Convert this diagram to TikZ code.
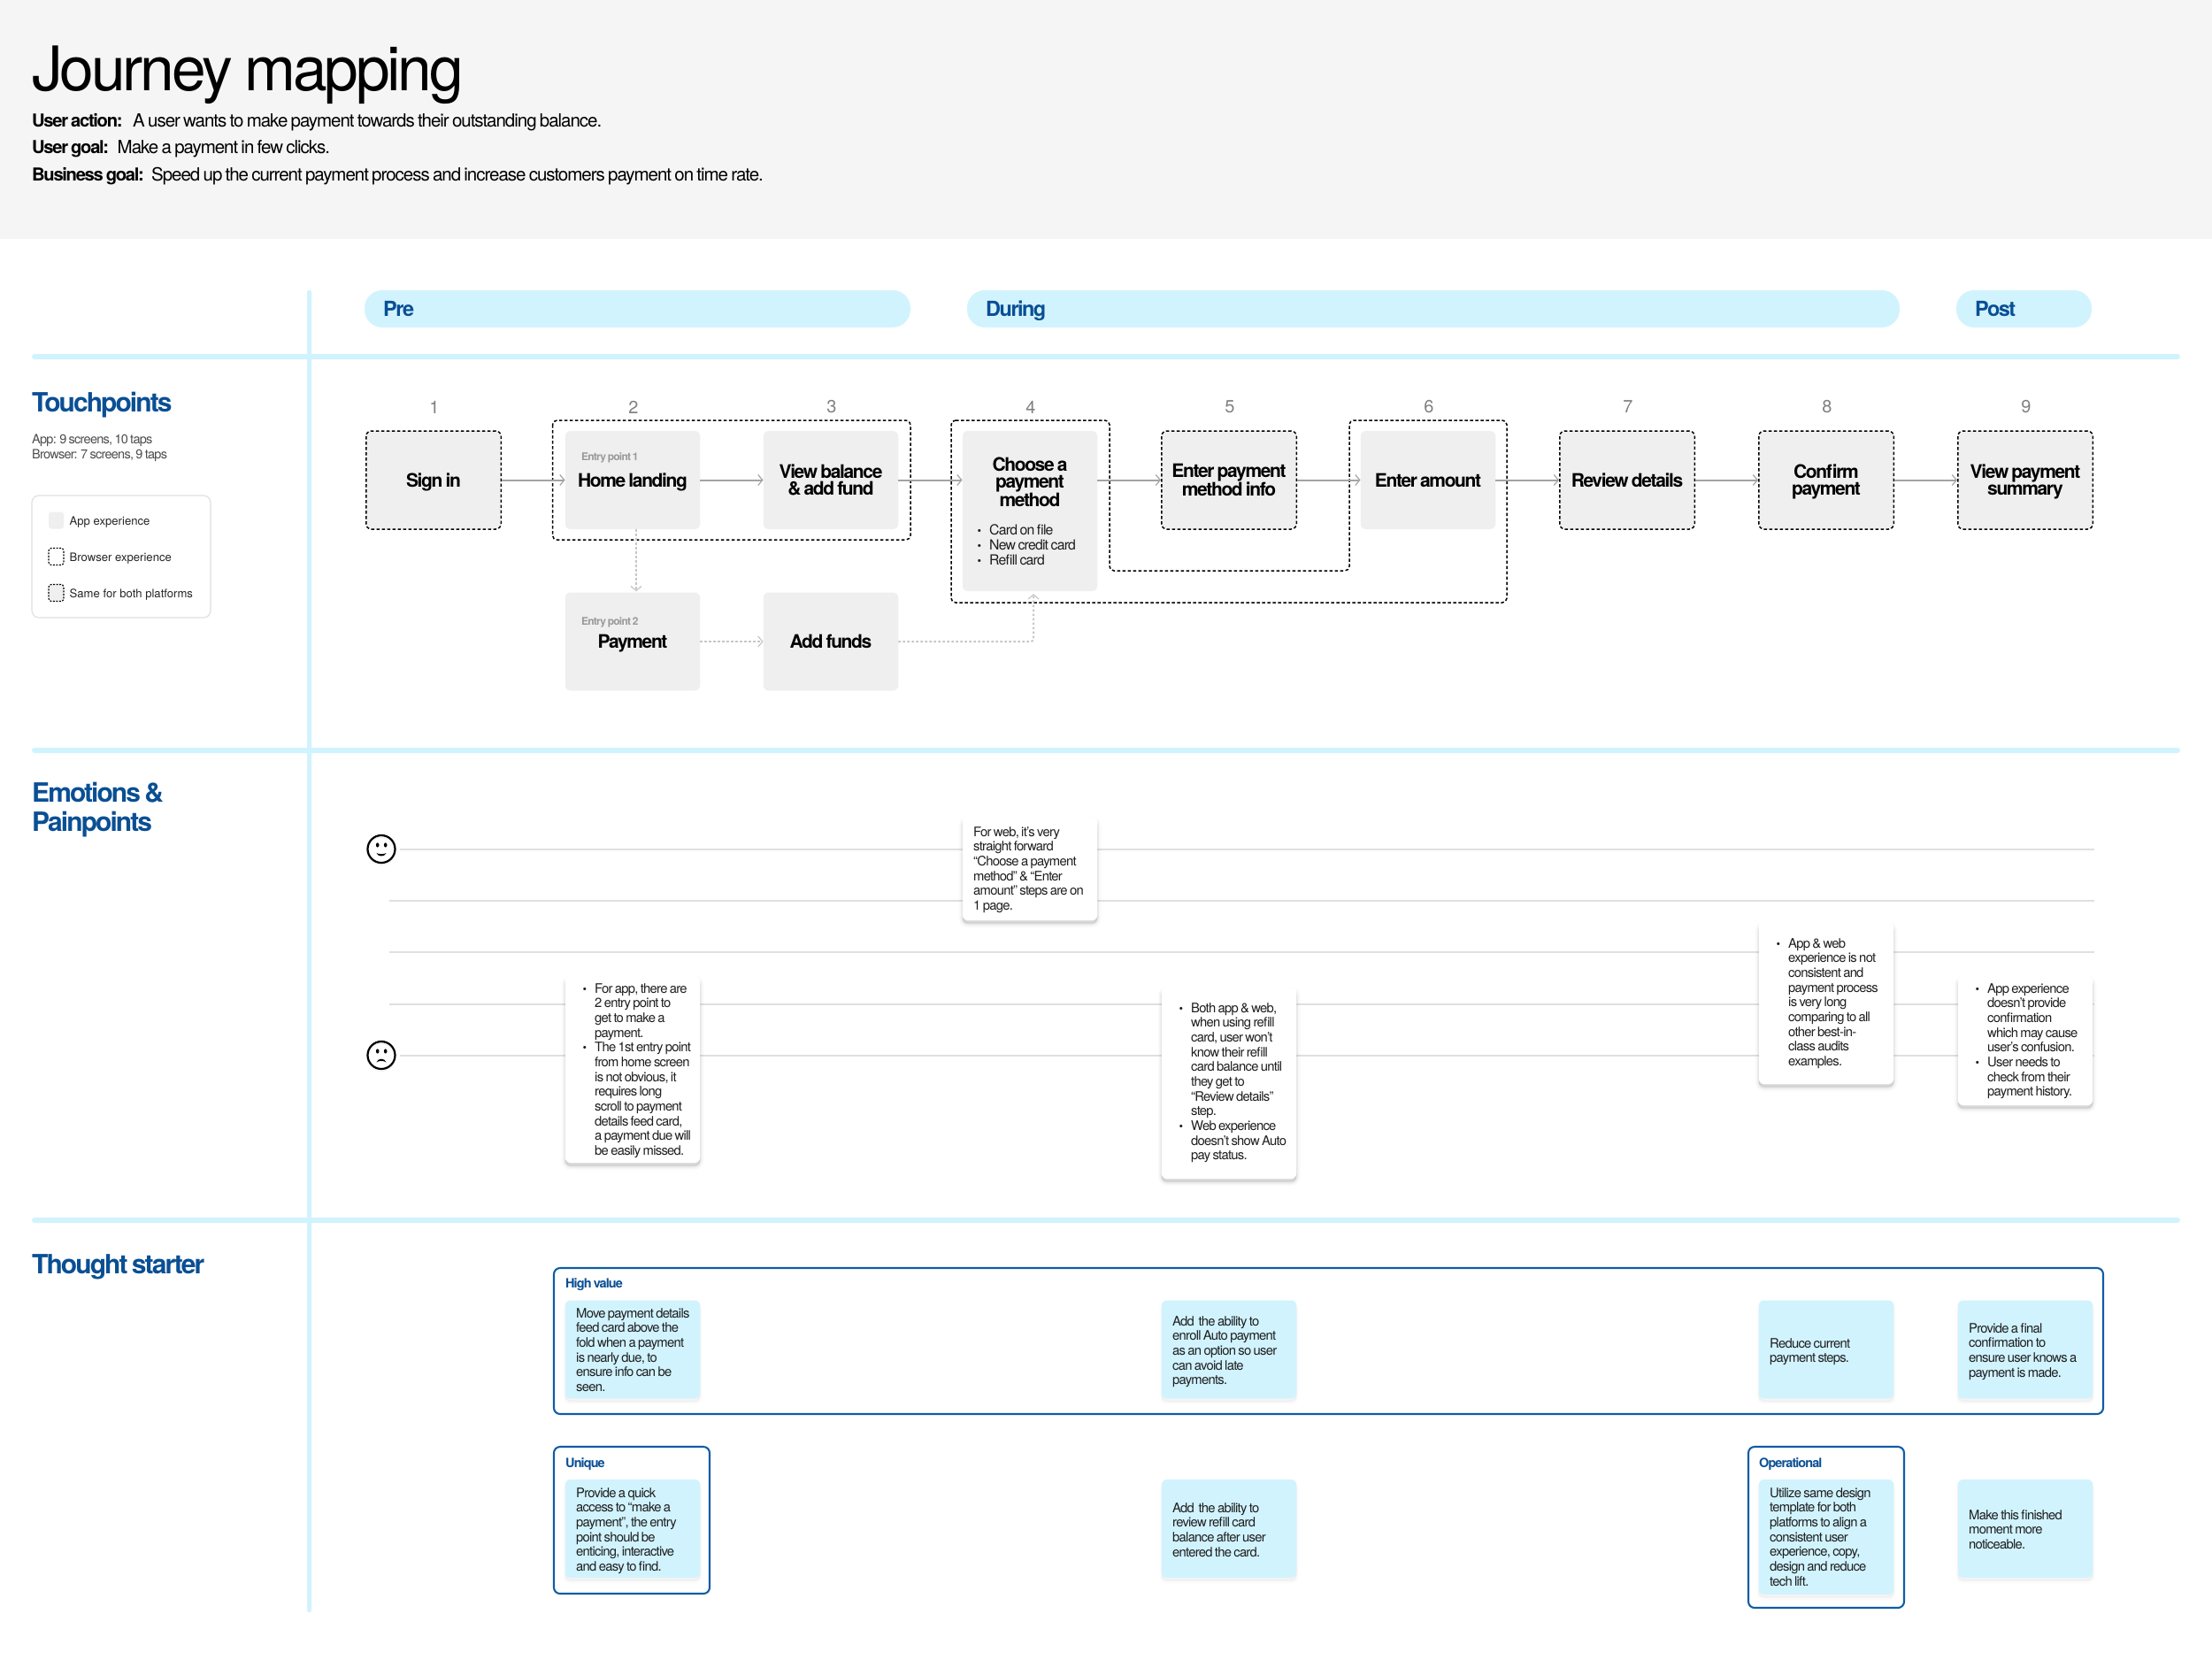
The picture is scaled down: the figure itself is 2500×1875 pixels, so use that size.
\documentclass[tikz,border=0pt]{standalone}
\usepackage{fontspec}
\usetikzlibrary{arrows.meta}
\setmainfont{TeX Gyre Heros}[LetterSpace=-5,WordSpace=0.7,BoldFeatures={LetterSpace=-6.5}]
\newfontfamily\titlefont{TeX Gyre Heros}[LetterSpace=-4.5,WordSpace=0.8]
\newfontfamily\legfont{TeX Gyre Heros}[LetterSpace=0]
\definecolor{hdr}{HTML}{F5F5F5}
\definecolor{sky}{HTML}{D1F3FE}
\definecolor{navy}{HTML}{0A4F94}
\definecolor{boxblue}{HTML}{0F5CA6}
\definecolor{stepg}{HTML}{EFEFEF}
\definecolor{rule}{HTML}{E0E0E0}
\definecolor{txt}{HTML}{1E1E1E}
\definecolor{arr}{HTML}{A3A3A3}
\definecolor{arrlight}{HTML}{C6C6C6}
\newcommand{\fs}[2]{\fontsize{#1}{#2}\selectfont}
\newcommand{\bul}{\llap{{\fs{13}{13}•}\hspace{9pt}}}
\newcommand{\ta}{\rule{0pt}{20pt}}
\newcommand{\tb}{\rule[-5pt]{0pt}{5pt}}
\tikzset{
  softshadow/.style={
    preaction={draw=black,fill=black,line width=9pt,opacity=.012,transform canvas={yshift=-4pt}},
    preaction={draw=black,fill=black,line width=6pt,opacity=.022,transform canvas={yshift=-4pt}},
    preaction={draw=black,fill=black,line width=3pt,opacity=.04,transform canvas={yshift=-4pt}},
    preaction={draw=black,fill=black,line width=.5pt,opacity=.05,transform canvas={yshift=-3pt}}},
  stepbox/.style={fill=stepg,rounded corners=6pt,minimum width=152.5pt,minimum height=111pt,inner sep=0pt,align=center,font=\fs{21}{19}\bfseries,text=black},
  dotted box/.style={draw=black,line width=1.5pt,dash pattern=on 3.5pt off 2.5pt},
  groupline/.style={draw=black,line width=1.5pt,dash pattern=on 3.5pt off 2.5pt,rounded corners=5pt},
  num/.style={font=\fs{20}{20},text=black!50,inner sep=0pt},
  section/.style={anchor=base west,inner sep=0pt,font=\fs{30}{33}\bfseries,text=navy,align=left},
  pilltext/.style={anchor=base west,inner sep=0pt,font=\fs{23.5}{23.5}\bfseries,text=navy},
  flow/.style={draw=arr,line width=2pt,-{Straight Barb[length=5pt,width=12pt,line width=1.2pt]}},
  flowdot/.style={draw=arrlight,line width=2pt,rounded corners=3pt,dash pattern=on 2.5pt off 2.5pt,-{Straight Barb[length=5pt,width=12pt,line width=1.2pt]}},
  card/.style={fill=white,rounded corners=6pt,minimum width=152.5pt,inner sep=0pt,softshadow},
  idea/.style={fill=sky,rounded corners=6pt,minimum width=152.5pt,inner sep=0pt,
    preaction={draw=black,fill=black,line width=6pt,opacity=.008,transform canvas={yshift=-4pt}},
    preaction={draw=black,fill=black,line width=3pt,opacity=.012,transform canvas={yshift=-4pt}},
    preaction={draw=black,fill=black,line width=.5pt,opacity=.02,transform canvas={yshift=-3pt}}},
  cardtext/.style={anchor=north west,inner sep=0pt,align=left,font=\fs{14.8}{16.67},text=txt},
  frame/.style={draw=boxblue,line width=2.1pt,rounded corners=7pt,inner sep=0pt},
  framelabel/.style={anchor=base west,inner sep=0pt,font=\fs{14.5}{14.5}\bfseries,text=navy},
  entry/.style={anchor=base west,inner sep=0pt,font=\fs{12}{12}\bfseries,text=black!40},
  track/.style={draw=rule,line width=2pt},
  face/.style={circle,draw=black,line width=2.2pt,minimum size=31pt,inner sep=0pt,
    preaction={draw=black,opacity=.05,line width=3pt,transform canvas={yshift=-1.5pt}}},
  legtext/.style={anchor=base west,inner sep=0pt,font=\legfont\fs{13.1}{14},text=black!85},
  chip/.style={rounded corners=3pt,minimum width=17pt,minimum height=19pt,inner sep=0pt},
  headb/.style={anchor=base west,inner sep=0pt,font=\fs{20.2}{20}\bfseries,text=black},
  headt/.style={anchor=base west,inner sep=0pt,font=\fs{20.5}{20},text=black},
}
\begin{document}
\begin{tikzpicture}[x=1pt,y=-1pt]
\useasboundingbox (0,0) rectangle (2500,1875);
% header
\fill[hdr] (0,0) rectangle (2500,270);
\node[anchor=base west,inner sep=0pt,font=\titlefont\fs{69.5}{69.5},text=black] (title) at (36,102) {Journey mapping};
\node[headb] (h1) at (36,143) {User action:};
\node[headt] (h1t) at (150,143) {A user wants to make payment towards their outstanding balance.};
\node[headb] (h2) at (36,173.5) {User goal:};
\node[headt] (h2t) at (132.5,173.5) {Make a payment in few clicks.};
\node[headb] (h3) at (36,204) {Business goal:};
\node[headt] (h3t) at (171,204) {Speed up the current payment process and increase customers payment on time rate.};
% grid
\fill[sky,rounded corners=2pt] (347,328) rectangle (352,1822);
\fill[sky,rounded corners=3pt] (36,400) rectangle (2464,406);
\fill[sky,rounded corners=3pt] (36,845) rectangle (2464,851);
\fill[sky,rounded corners=3pt] (36,1376) rectangle (2464,1382);
% pills
\fill[sky,rounded corners=20pt] (412,328) rectangle (1029,370);
\fill[sky,rounded corners=20pt] (1093,328) rectangle (2147,370);
\fill[sky,rounded corners=20pt] (2211,328) rectangle (2364,370);
\node[pilltext] (pre) at (433,357) {Pre};
\node[pilltext] (during) at (1114,357) {During};
\node[pilltext] (post) at (2232,357) {Post};
% section titles
\node[section] (tp) at (36,465) {Touchpoints};
\node[anchor=north west,inner sep=0pt,align=left,font=\fs{14.5}{17},text=black!70] (tpinfo) at (36,489.5) {\strut App: 9 screens, 10 taps\\Browser: 7 screens, 9 taps};
\node[section] (ep) at (36,939) {Emotions \&\\Painpoints};
\node[section] (ts) at (36,1439) {Thought starter};
% legend
\draw[draw=rule,fill=white,line width=1.2pt,rounded corners=8pt] (36,560) rectangle (238,698);
\node[chip,fill=stepg] (lg1) at (63.5,588) {};
\node[chip,draw=black,line width=1.1pt,dash pattern=on 2pt off 1.5pt,fill=white] (lg2) at (63.5,629) {};
\node[chip,draw=black,line width=1.1pt,dash pattern=on 2pt off 1.5pt,fill=stepg] (lg3) at (63.5,670) {};
\node[legtext] (lt1) at (78.5,593.5) {App experience};
\node[legtext] (lt2) at (78.5,634.5) {Browser experience};
\node[legtext] (lt3) at (78.5,675.5) {Same for both platforms};
% numbers
\foreach \n/\x in {1/491,2/716,3/940,4/1165,5/1390,6/1615,7/1840,8/2065,9/2290}
  \node[num] (n\n) at (\x,460) {\n};
% groups
\draw[groupline] (624.5,475) rectangle (1029,610);
\draw[groupline] (1075,475) -- (1254,475) -- (1254,645) -- (1525,645) -- (1525,475) -- (1703,475) -- (1703,681) -- (1075,681) -- cycle;
% steps
\node[stepbox,dotted box] (s1) at (490,542.5) {\ta\tb Sign in};
\node[stepbox] (s2) at (715,542.5) {\ta\tb Home landing};
\node[stepbox] (s3) at (939,542.5) {\ta View balance\\\tb\& add fund};
\node[stepbox,minimum height=181pt] (s4) at (1164,577.5) {};
\node[stepbox,dotted box] (s5) at (1389,542.5) {\ta Enter payment\\\tb method info};
\node[stepbox] (s6) at (1614,542.5) {\ta\tb Enter amount};
\node[stepbox,dotted box] (s7) at (1839,542.5) {\ta\tb Review details};
\node[stepbox,dotted box] (s8) at (2064,542.5) {\ta Confirm\\\tb payment};
\node[stepbox,dotted box] (s9) at (2289,542.5) {\ta View payment\\\tb summary};
\node[stepbox] (p2) at (715,725) {\ta\tb Payment};
\node[stepbox] (p3) at (939,725) {\ta\tb Add funds};
\node[entry] (e1) at (657,520) {Entry point 1};
\node[entry] (e2) at (657,706) {Entry point 2};
\node[inner sep=0pt,align=center,font=\fs{21}{19}\bfseries,text=black] (s4t) at (1164,545) {\ta Choose a\\payment\\\tb method};
\node[cardtext,font=\fs{15.8}{17}] (s4l) at (1118,592) {\strut\bul Card on file\\\bul New credit card\\\bul Refill card};
% flows
\draw[flow] (s1.east) -- (s2.west);
\draw[flow] (s2.east) -- (s3.west);
\draw[flow] (s3.east) -- (s4.west |- s3.east);
\draw[flow] (s4.east |- s5.west) -- (s5.west);
\draw[flow] (s5.east) -- (s6.west);
\draw[flow] (s6.east) -- (s7.west);
\draw[flow] (s7.east) -- (s8.west);
\draw[flow] (s8.east) -- (s9.west);
\draw[flowdot] ([xshift=4pt]s2.south) -- ([xshift=4pt,yshift=1pt]p2.north);
\draw[flowdot] (p2.east) -- (p3.west);
\draw[flowdot] (p3.east) -| ([xshift=4pt,yshift=-3pt]s4.south);
% emotion tracks
\node[face] (happy) at (431,959.5) {};
\node[face] (sad) at (431,1192.5) {};
\fill (426.7,955) ellipse (1.8pt and 2.6pt) (435.7,955) ellipse (1.8pt and 2.6pt) (426.7,1188) ellipse (1.8pt and 2.6pt) (435.7,1188) ellipse (1.8pt and 2.6pt);
\fill (425.5,964) .. controls (428,965.6) and (434,965.6) .. (436.5,964) .. controls (435,968.6) and (427,968.6) .. (425.5,964) -- cycle;
\fill (425.5,1200.5) .. controls (427,1195.4) and (435,1195.4) .. (436.5,1200.5) .. controls (434,1198.4) and (428,1198.4) .. (425.5,1200.5) -- cycle;
\coordinate (te1) at (2367,960);
\coordinate (te2) at (2367,1018);
\coordinate (te3) at (2367,1076);
\coordinate (te4) at (2367,1135);
\coordinate (te5) at (2367,1193);
\coordinate (ts2) at (440,1018);
\coordinate (ts3) at (440,1076);
\coordinate (ts4) at (440,1135);
\draw[track] (happy.east |- te1) ++(4,0) -- (te1);
\draw[track] (ts2) -- (te2);
\draw[track] (ts3) -- (te3);
\draw[track] (ts4) -- (te4);
\draw[track] (sad.east |- te5) ++(4,0) -- (te5);
% emotion cards
\node[card,minimum height=117pt] (ca) at (1164,981.5) {};
\node[cardtext] (cat) at (1100,933.3) {\strut For web, it’s very\\straight forward\\“Choose a payment\\method” \& “Enter\\amount” steps are on\\1 page.};
\node[card,minimum height=211pt] (cb) at (715,1208.5) {};
\node[cardtext] (cbt) at (672,1110.3) {\strut\bul For app, there are\\2 entry point to\\get to make a\\payment.\\\bul The 1st entry point\\from home screen\\is not obvious, it\\requires long\\scroll to payment\\details feed card,\\a payment due will\\be easily missed.};
\node[card,minimum height=217pt] (cc) at (1389,1223.5) {};
\node[cardtext] (cct) at (1346,1132.3) {\strut\bul Both app \& web,\\when using refill\\card, user won’t\\know their refill\\card balance until\\they get to\\“Review details”\\step.\\\bul Web experience\\doesn’t show Auto\\pay status.};
\node[card,minimum height=183pt] (cd) at (2064,1133.5) {};
\node[cardtext] (cdt) at (2021,1059.3) {\strut\bul App \& web\\experience is not\\consistent and\\payment process\\is very long\\comparing to all\\other best-in-\\class audits\\examples.};
\node[card,minimum height=146pt] (ce) at (2289,1176) {};
\node[cardtext] (cet) at (2246,1110.3) {\strut\bul App experience\\doesn’t provide\\confirmation\\which may cause\\user’s confusion.\\\bul User needs to\\check from their\\payment history.};
% thought starter frames
\draw[frame] (626,1433) rectangle (2377,1598);
\draw[frame] (626,1635) rectangle (802,1801);
\draw[frame] (1976,1635) rectangle (2152,1817);
\node[framelabel] (fl1) at (639,1455) {High value};
\node[framelabel] (fl2) at (639,1658) {Unique};
\node[framelabel] (fl3) at (1988,1658) {Operational};
% ideas
\node[idea,minimum height=111pt] (i1) at (715,1525) {};
\node[idea,minimum height=111pt] (i2) at (1389,1525) {};
\node[idea,minimum height=111pt] (i3) at (2064,1525) {};
\node[idea,minimum height=111pt] (i4) at (2289,1525) {};
\node[idea,minimum height=111pt] (i5) at (715,1727.5) {};
\node[idea,minimum height=111pt] (i6) at (1389,1727.5) {};
\node[idea,minimum height=130pt] (i7) at (2064,1737) {};
\node[idea,minimum height=111pt] (i8) at (2289,1727.5) {};
\node[cardtext] (i1t) at (651,1477.3) {\strut Move payment details\\feed card above the\\fold when a payment\\is nearly due, to\\ensure info can be\\seen.};
\node[cardtext] (i2t) at (1325,1486.3) {\strut Add\ \ the ability to\\enroll Auto payment\\as an option so user\\can avoid late\\payments.};
\node[cardtext] (i3t) at (2000,1511.3) {\strut Reduce current\\payment steps.};
\node[cardtext] (i4t) at (2225,1494.3) {\strut Provide a final\\confirmation to\\ensure user knows a\\payment is made.};
\node[cardtext] (i5t) at (651,1680.3) {\strut Provide a quick\\access to “make a\\payment”, the entry\\point should be\\enticing, interactive\\and easy to find.};
\node[cardtext] (i6t) at (1325,1697.3) {\strut Add\ \ the ability to\\review refill card\\balance after user\\entered the card.};
\node[cardtext] (i7t) at (2000,1680.3) {\strut Utilize same design\\template for both\\platforms to align a\\consistent user\\experience, copy,\\design and reduce\\tech lift.};
\node[cardtext] (i8t) at (2225,1705.3) {\strut Make this finished\\moment more\\noticeable.};
\end{tikzpicture}
\end{document}
